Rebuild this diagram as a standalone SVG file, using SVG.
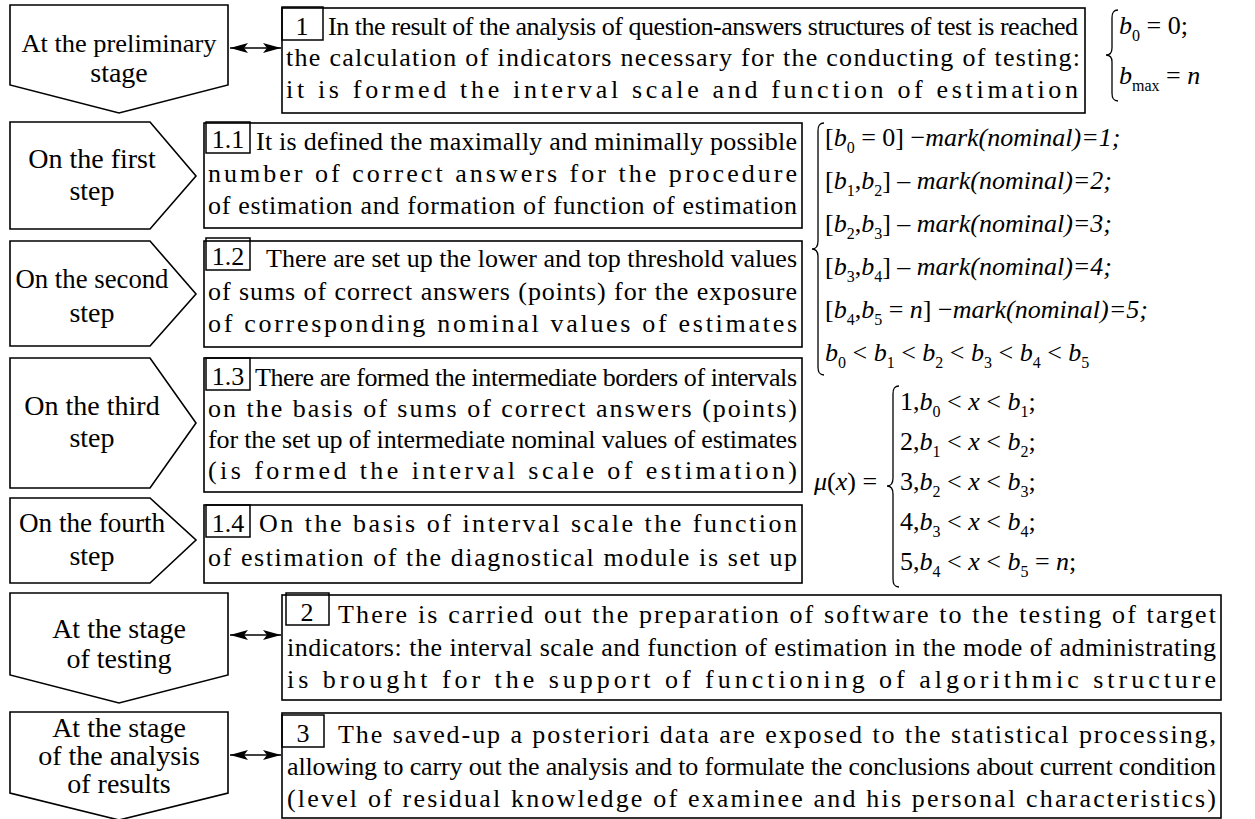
<svg xmlns="http://www.w3.org/2000/svg" width="1255" height="819" viewBox="0 0 1255 819">
<style>
text{font-family:'Liberation Serif','Times New Roman',serif;font-size:26px;fill:#000}
.c{text-anchor:middle}
.lb{font-size:28px}
.i{font-style:italic}
.s{font-size:16px;font-style:normal}
.box{fill:#fff;stroke:#000;stroke-width:1.6}
.num{fill:none;stroke:#000;stroke-width:1.5}
.shape{fill:#fff;stroke:#000;stroke-width:1.6}
.br{fill:none;stroke:#000;stroke-width:1.3}
.conn{stroke:#000;stroke-width:1.6;fill:none}
</style>
<defs>
<marker id="ah" viewBox="0 0 18 10" refX="18" refY="5" markerWidth="18" markerHeight="10" markerUnits="userSpaceOnUse" orient="auto-start-reverse">
<path d="M0,0 L18,5 L0,10 L4,5 Z" fill="#000"/>
</marker>
</defs>
<rect x="0" y="0" width="1255" height="819" fill="#fff"/>

<g id="stage1">
<path class="shape" d="M10,5 H228 V85 L119,113 L10,85 Z"/>
<text class="c" x="119" y="52" textLength="195" lengthAdjust="spacingAndGlyphs">At the preliminary</text>
<text class="c lb" x="119" y="82">stage</text>
</g>
<g id="step1">
<path class="shape" d="M10,122 H150 L196,176 L150,229 H10 Z"/>
<text class="c lb" x="92" y="168">On the first</text>
<text class="c lb" x="92" y="200">step</text>
</g>
<g id="step2">
<path class="shape" d="M10,241 H150 L196,294 L150,346 H10 Z"/>
<text class="c lb" x="92" y="288" textLength="153" lengthAdjust="spacingAndGlyphs">On the second</text>
<text class="c lb" x="92" y="322">step</text>
</g>
<g id="step3">
<path class="shape" d="M10,358 H150 L196,423 L150,488 H10 Z"/>
<text class="c lb" x="92" y="415">On the third</text>
<text class="c lb" x="92" y="447">step</text>
</g>
<g id="step4">
<path class="shape" d="M10,498 H150 L196,540 L150,583 H10 Z"/>
<text class="c lb" x="92" y="532" textLength="146" lengthAdjust="spacingAndGlyphs">On the fourth</text>
<text class="c lb" x="92" y="565">step</text>
</g>
<g id="stage2">
<path class="shape" d="M10,593 H228 V675 L119,703 L10,675 Z"/>
<text class="c lb" x="119" y="638">At the stage</text>
<text class="c lb" x="119" y="668">of testing</text>
</g>
<g id="stage3">
<path class="shape" d="M10,712 H228 V793 L119,820 L10,793 Z"/>
<text class="c lb" x="119" y="737">At the stage</text>
<text class="c lb" x="119" y="765">of the analysis</text>
<text class="c lb" x="119" y="793">of results</text>
</g>

<g id="box1">
<rect class="box" x="282" y="8" width="803" height="105"/>
<rect class="num" x="282" y="7" width="41" height="33"/>
<text class="c" x="302" y="35">1</text>
<text x="328" y="35" textLength="750" lengthAdjust="spacing">In the result of the analysis of question-answers structures of test is reached</text>
<text x="286" y="66" textLength="794" lengthAdjust="spacing">the calculation of indicators necessary for the conducting of testing:</text>
<text x="286" y="98" textLength="792" lengthAdjust="spacing">it is formed the interval scale and function of estimation</text>
</g>

<g id="box1_1">
<rect class="box" x="204" y="123" width="598" height="105"/>
<rect class="num" x="206" y="122" width="44" height="31"/>
<text class="c" x="228" y="148">1.1</text>
<text x="256" y="150" textLength="541" lengthAdjust="spacing">It is defined the maximally and minimally possible</text>
<text x="208" y="182" textLength="589" lengthAdjust="spacing">number of correct answers for the procedure</text>
<text x="208" y="214" textLength="589" lengthAdjust="spacing">of estimation and formation of function of estimation</text>
</g>

<g id="box1_2">
<rect class="box" x="204" y="241" width="598" height="106"/>
<rect class="num" x="206" y="238" width="44" height="32"/>
<text class="c" x="228" y="265">1.2</text>
<text x="266" y="267" textLength="531" lengthAdjust="spacing">There are set up the lower and top threshold values</text>
<text x="208" y="300" textLength="589" lengthAdjust="spacing">of sums of correct answers (points) for the exposure</text>
<text x="208" y="332" textLength="589" lengthAdjust="spacing">of corresponding nominal values of estimates</text>
</g>

<g id="box1_3">
<rect class="box" x="204" y="358" width="598" height="134"/>
<rect class="num" x="206" y="358" width="44" height="32"/>
<text class="c" x="228" y="385">1.3</text>
<text x="255" y="386" textLength="542" lengthAdjust="spacing">There are formed the intermediate borders of intervals</text>
<text x="208" y="417" textLength="589" lengthAdjust="spacing">on the basis of sums of correct answers (points)</text>
<text x="208" y="448" textLength="589" lengthAdjust="spacing">for the set up of intermediate nominal values of estimates</text>
<text x="208" y="479" textLength="589" lengthAdjust="spacing">(is formed the interval scale of estimation)</text>
</g>

<g id="box1_4">
<rect class="box" x="204" y="505" width="598" height="78"/>
<rect class="num" x="206" y="505" width="44" height="32"/>
<text class="c" x="228" y="532">1.4</text>
<text x="259" y="532" textLength="538" lengthAdjust="spacing">On the basis of interval scale the function</text>
<text x="208" y="566" textLength="589" lengthAdjust="spacing">of estimation of the diagnostical module is set up</text>
</g>

<g id="box2">
<rect class="box" x="282" y="595" width="939" height="105"/>
<rect class="num" x="286" y="593" width="43" height="32"/>
<text class="c" x="307" y="621">2</text>
<text x="338" y="623" textLength="878" lengthAdjust="spacing">There is carried out the preparation of software to the testing of target</text>
<text x="287" y="656" textLength="929" lengthAdjust="spacing">indicators: the interval scale and function of estimation in the mode of administrating</text>
<text x="287" y="688" textLength="929" lengthAdjust="spacing">is brought for the support of functioning of algorithmic structure</text>
</g>

<g id="box3">
<rect class="box" x="282" y="713" width="939" height="105"/>
<rect class="num" x="282" y="715" width="42" height="32"/>
<text class="c" x="303" y="742">3</text>
<text x="338" y="743" textLength="878" lengthAdjust="spacing">The saved-up a posteriori data are exposed to the statistical processing,</text>
<text x="287" y="775" textLength="929" lengthAdjust="spacing">allowing to carry out the analysis and to formulate the conclusions about current condition</text>
<text x="287" y="807" textLength="929" lengthAdjust="spacing">(level of residual knowledge of examinee and his personal characteristics)</text>
</g>

<g id="formula_b">
<path class="br" d="M1118,10 C1113,10 1112,13 1112,18 L1112,48 C1112,52 1110,55 1106,55 C1110,55 1112,58 1112,62 L1112,93 C1112,98 1113,101 1118,101"/>
<text x="1119" y="34"><tspan class="i">b</tspan><tspan class="s" dy="7">0</tspan><tspan dy="-7"> = 0;</tspan></text>
<text x="1119" y="84"><tspan class="i">b</tspan><tspan class="s" dy="7">max</tspan><tspan dy="-7"> = </tspan><tspan class="i">n</tspan></text>
</g>

<g id="formula_marks">
<path class="br" d="M824,123 C819,123 818,126 818,131 L818,241 C818,246 816,249 812,249 C816,249 818,252 818,257 L818,367 C818,372 819,375 824,375"/>
<text x="825" y="146">[<tspan class="i">b</tspan><tspan class="s" dy="7">0</tspan><tspan dy="-7"> = 0] −</tspan><tspan class="i">mark(nominal)=1;</tspan></text>
<text x="825" y="189">[<tspan class="i">b</tspan><tspan class="s" dy="7">1</tspan><tspan dy="-7">,</tspan><tspan class="i">b</tspan><tspan class="s" dy="7">2</tspan><tspan dy="-7">] – </tspan><tspan class="i">mark(nominal)=2;</tspan></text>
<text x="825" y="232">[<tspan class="i">b</tspan><tspan class="s" dy="7">2</tspan><tspan dy="-7">,</tspan><tspan class="i">b</tspan><tspan class="s" dy="7">3</tspan><tspan dy="-7">] – </tspan><tspan class="i">mark(nominal)=3;</tspan></text>
<text x="825" y="275">[<tspan class="i">b</tspan><tspan class="s" dy="7">3</tspan><tspan dy="-7">,</tspan><tspan class="i">b</tspan><tspan class="s" dy="7">4</tspan><tspan dy="-7">] – </tspan><tspan class="i">mark(nominal)=4;</tspan></text>
<text x="825" y="318">[<tspan class="i">b</tspan><tspan class="s" dy="7">4</tspan><tspan dy="-7">,</tspan><tspan class="i">b</tspan><tspan class="s" dy="7">5</tspan><tspan dy="-7"> = </tspan><tspan class="i">n</tspan>] −<tspan class="i">mark(nominal)=5;</tspan></text>
<text x="825" y="361"><tspan class="i">b</tspan><tspan class="s" dy="7">0</tspan><tspan dy="-7"> &lt; </tspan><tspan class="i">b</tspan><tspan class="s" dy="7">1</tspan><tspan dy="-7"> &lt; </tspan><tspan class="i">b</tspan><tspan class="s" dy="7">2</tspan><tspan dy="-7"> &lt; </tspan><tspan class="i">b</tspan><tspan class="s" dy="7">3</tspan><tspan dy="-7"> &lt; </tspan><tspan class="i">b</tspan><tspan class="s" dy="7">4</tspan><tspan dy="-7"> &lt; </tspan><tspan class="i">b</tspan><tspan class="s" dy="7">5</tspan></text>
</g>

<g id="formula_mu">
<text x="814" y="490"><tspan class="i">μ</tspan>(<tspan class="i">x</tspan>) =</text>
<path class="br" d="M899,386 C894,386 893,389 893,394 L893,478 C893,483 891,486 887,486 C891,486 893,489 893,494 L893,579 C893,584 894,587 899,587"/>
<text x="900" y="410">1,<tspan class="i">b</tspan><tspan class="s" dy="7">0</tspan><tspan dy="-7"> &lt; </tspan><tspan class="i">x</tspan> &lt; <tspan class="i">b</tspan><tspan class="s" dy="7">1</tspan><tspan dy="-7">;</tspan></text>
<text x="900" y="450">2,<tspan class="i">b</tspan><tspan class="s" dy="7">1</tspan><tspan dy="-7"> &lt; </tspan><tspan class="i">x</tspan> &lt; <tspan class="i">b</tspan><tspan class="s" dy="7">2</tspan><tspan dy="-7">;</tspan></text>
<text x="900" y="490">3,<tspan class="i">b</tspan><tspan class="s" dy="7">2</tspan><tspan dy="-7"> &lt; </tspan><tspan class="i">x</tspan> &lt; <tspan class="i">b</tspan><tspan class="s" dy="7">3</tspan><tspan dy="-7">;</tspan></text>
<text x="900" y="530">4,<tspan class="i">b</tspan><tspan class="s" dy="7">3</tspan><tspan dy="-7"> &lt; </tspan><tspan class="i">x</tspan> &lt; <tspan class="i">b</tspan><tspan class="s" dy="7">4</tspan><tspan dy="-7">;</tspan></text>
<text x="900" y="570">5,<tspan class="i">b</tspan><tspan class="s" dy="7">4</tspan><tspan dy="-7"> &lt; </tspan><tspan class="i">x</tspan> &lt; <tspan class="i">b</tspan><tspan class="s" dy="7">5</tspan><tspan dy="-7"> = </tspan><tspan class="i">n</tspan>;</text>
</g>

<g id="connectors">
<line class="conn" x1="230" y1="48" x2="281" y2="48" marker-start="url(#ah)" marker-end="url(#ah)"/>
<line class="conn" x1="230" y1="635" x2="281" y2="635" marker-start="url(#ah)" marker-end="url(#ah)"/>
<line class="conn" x1="230" y1="755" x2="281" y2="755" marker-start="url(#ah)" marker-end="url(#ah)"/>
</g>
</svg>
